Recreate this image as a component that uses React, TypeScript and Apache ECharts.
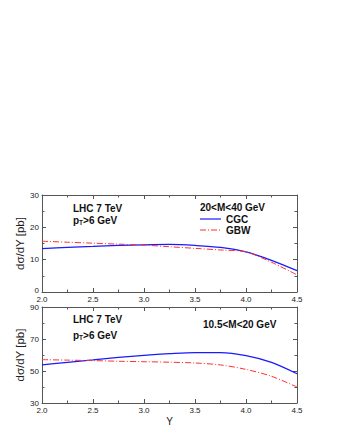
import React, { useEffect, useRef } from "react";
import * as echarts from "echarts";

const rapidity = [2.0, 2.25, 2.5, 2.75, 3.0, 3.25, 3.5, 3.75, 4.0, 4.25, 4.5];
const cgcHigh = [13.4, 13.8, 14.1, 14.4, 14.6, 14.7, 14.4, 13.8, 12.4, 9.8, 6.6];
const gbwHigh = [15.7, 15.4, 15.1, 14.8, 14.5, 14.0, 13.5, 13.0, 12.4, 9.2, 5.3];
const cgcLow = [53.8, 55.4, 56.9, 58.5, 59.8, 60.8, 61.5, 61.5, 59.6, 55.4, 48.3];
const gbwLow = [57.1, 56.8, 56.5, 56.1, 55.8, 55.5, 55.0, 53.8, 51.0, 46.7, 40.0];

const xTicks = [2.0, 2.5, 3.0, 3.5, 4.0, 4.5];
const yHighTicks = [0, 10, 20, 30];
const yLowTicks = [30, 50, 70, 90];

const FONT = "Liberation Sans, Arial, sans-serif";
const BLUE = "#1a1aff";
const RED = "#ff3030";
const DASH = [6, 2, 1, 2];
const AXIS = "#555555";
const TEXT = "#222222";
const TICK_FS = 8;

export default function App() {
  const ref = useRef<HTMLDivElement>(null);
  useEffect(() => {
    document.body.style.margin = "0";
    const chart = echarts.init(ref.current!, undefined, { renderer: "svg" });
    const pair = (xs: number[], ys: number[]) => xs.map((x, i) => [x, ys[i]]);
    const baseX = (gridIndex: number, showLabel: boolean, position: "top" | "bottom", margin = 3) => ({
      type: "value",
      gridIndex,
      position,
      min: xTicks[0],
      max: xTicks[xTicks.length - 1],
      interval: 0.5,
      axisLine: { show: true, onZero: false, lineStyle: { color: AXIS, width: 1 } },
      axisTick: { show: true, inside: true, length: 4, lineStyle: { color: AXIS } },
      minorTick: { show: true, splitNumber: 2, length: 2.5, lineStyle: { color: AXIS } },
      splitLine: { show: false },
      axisLabel: {
        show: showLabel,
        fontSize: TICK_FS,
        color: TEXT,
        fontFamily: FONT,
        margin,
        formatter: (v: number) => v.toFixed(1),
      },
    });
    const baseY = (gridIndex: number, ticks: number[], showLabel: boolean, position: "left" | "right", name?: string, liftMin = false) => ({
      type: "value",
      gridIndex,
      position,
      min: ticks[0],
      max: ticks[ticks.length - 1],
      interval: ticks[1] - ticks[0],
      name: name,
      nameLocation: "middle",
      nameGap: 16,
      nameMoveOverlap: false,
      nameTextStyle: { fontSize: 11.5, color: TEXT, fontFamily: FONT },
      axisLine: { show: true, lineStyle: { color: AXIS, width: 1 } },
      axisTick: { show: true, inside: true, length: 4, lineStyle: { color: AXIS } },
      minorTick: { show: true, splitNumber: 2, length: 2.5, lineStyle: { color: AXIS } },
      splitLine: { show: false },
      axisLabel: {
        show: showLabel,
        fontSize: TICK_FS,
        color: TEXT,
        fontFamily: FONT,
        margin: 3,
        formatter: (v: number) => (liftMin && v === ticks[0] ? "{lift|" + v + "}" : String(v)),
        rich: { lift: { fontSize: TICK_FS, color: TEXT, fontFamily: FONT, padding: [0, 0, 4, 0] } },
      },
    });
    const label = (x: number, y: number, text: string) => ({
      type: "text",
      left: x,
      top: y,
      style: {
        text,
        fontSize: 10,
        fontWeight: "bold",
        fontFamily: FONT,
        fill: "#111",
        rich: {
          b: { fontSize: 10, fontWeight: "bold", fontFamily: FONT, fill: "#111" },
          s: { fontSize: 6.5, fontWeight: "bold", fontFamily: FONT, fill: "#111", padding: [5, 0, 0, 0] },
        },
      },
    });
    const legendLine = (y: number, color: string, dashed: boolean) => ({
      type: "line",
      shape: { x1: 200, y1: y, x2: 221, y2: y },
      style: { stroke: color, lineWidth: 1.2, lineDash: dashed ? DASH : null },
    });
    chart.setOption({
      animation: false,
      grid: [
        { left: 42, right: 43, top: 195, height: 97 },
        { left: 42, right: 43, top: 307, height: 96 },
      ],
      xAxis: [
        { ...baseX(0, true, "bottom", 3) },
        { ...baseX(0, false, "top") },
        {
          ...baseX(1, true, "bottom"),
          name: "Y",
          nameLocation: "middle",
          nameGap: 13,
          nameMoveOverlap: false,
          nameTextStyle: { fontSize: 10, color: TEXT, fontFamily: FONT },
        },
        { ...baseX(1, false, "top") },
      ],
      yAxis: [
        baseY(0, yHighTicks, true, "left", "dσ/dY [pb]", true),
        baseY(0, yHighTicks, false, "right"),
        baseY(1, yLowTicks, true, "left", "dσ/dY [pb]"),
        baseY(1, yLowTicks, false, "right"),
      ],
      series: [
        {
          name: "CGC",
          type: "line",
          xAxisIndex: 0,
          yAxisIndex: 0,
          data: pair(rapidity, cgcHigh),
          showSymbol: false,
          smooth: 0.3,
          lineStyle: { color: BLUE, width: 1.2 },
          itemStyle: { color: BLUE },
        },
        {
          name: "GBW",
          type: "line",
          xAxisIndex: 0,
          yAxisIndex: 0,
          data: pair(rapidity, gbwHigh),
          showSymbol: false,
          smooth: 0.3,
          lineStyle: { color: RED, width: 1, type: DASH },
          itemStyle: { color: RED },
        },
        {
          name: "CGC",
          type: "line",
          xAxisIndex: 2,
          yAxisIndex: 2,
          data: pair(rapidity, cgcLow),
          showSymbol: false,
          smooth: 0.3,
          lineStyle: { color: BLUE, width: 1.2 },
          itemStyle: { color: BLUE },
        },
        {
          name: "GBW",
          type: "line",
          xAxisIndex: 2,
          yAxisIndex: 2,
          data: pair(rapidity, gbwLow),
          showSymbol: false,
          smooth: 0.3,
          lineStyle: { color: RED, width: 1, type: DASH },
          itemStyle: { color: RED },
        },
      ],
      graphic: [
        label(73, 203, "LHC 7 TeV"),
        label(73, 215, "{b|p}{s|T}{b|>6 GeV}"),
        label(200, 202, "20<M<40 GeV"),
        legendLine(219, BLUE, false),
        label(226, 214, "CGC"),
        legendLine(230, RED, true),
        label(226, 225, "GBW"),
        label(73, 314, "LHC 7 TeV"),
        label(73, 330, "{b|p}{s|T}{b|>6 GeV}"),
        label(203, 319, "10.5<M<20 GeV"),
      ],
    });
    return () => chart.dispose();
  }, []);
  return <div ref={ref} style={{ width: 340, height: 440, position: "absolute", left: 0, top: 0 }} />;
}
